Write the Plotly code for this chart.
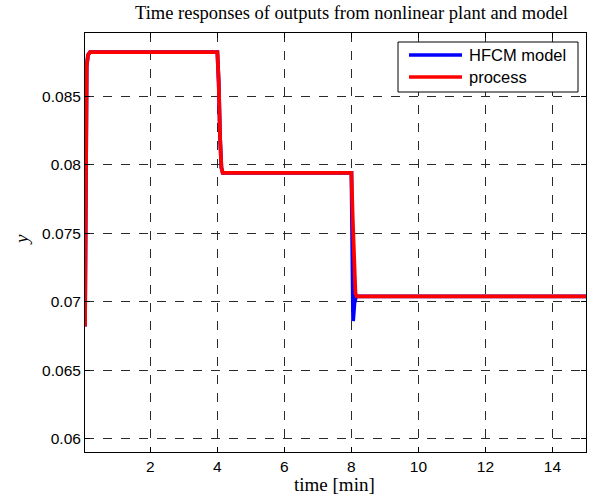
import plotly.graph_objects as go

# Data
time_process = [0.05, 0.07, 0.10, 0.14, 0.20, 4.00, 4.04, 4.08, 4.12, 4.16, 8.00, 8.04, 8.08, 8.12, 8.16, 15.0]
y_process = [0.0682, 0.0840, 0.0872, 0.0880, 0.0882, 0.0882, 0.0860, 0.0820, 0.0798, 0.0794, 0.0794, 0.0760, 0.0720, 0.0706, 0.0704, 0.0704]

time_model = [0.05, 0.07, 0.10, 0.14, 0.20, 4.00, 4.04, 4.08, 4.12, 4.16, 8.00, 8.03, 8.05, 8.07, 8.09, 8.11, 8.14, 15.0]
y_model = [0.0682, 0.0840, 0.0872, 0.0880, 0.0882, 0.0882, 0.0860, 0.0820, 0.0798, 0.0794, 0.0794, 0.0730, 0.0686, 0.0692, 0.0699, 0.0702, 0.0704, 0.0704]

x_ticks = [2, 4, 6, 8, 10, 12, 14]
y_ticks = [0.06, 0.065, 0.07, 0.075, 0.08, 0.085]
y_tick_labels = ["0.06", "0.065", "0.07", "0.075", "0.08", "0.085"]

series_names = ["HFCM model", "process"]
series_colors = ["#0000ff", "#ff0000"]

W, H = 589, 502
L, R, T, B = 85, 3, 33, 50
pw, ph = W - L - R, H - T - B

def px_x(x):
    return (x - L) / pw

def px_y(y):
    return 1 - (y - T) / ph

fig = go.Figure()
fig.add_trace(go.Scatter(x=time_model, y=y_model, mode="lines", name=series_names[0],
                         line=dict(color=series_colors[0], width=3.8), showlegend=False))
fig.add_trace(go.Scatter(x=time_process, y=y_process, mode="lines", name=series_names[1],
                         line=dict(color=series_colors[1], width=3.8), showlegend=False))

axis_common = dict(showline=True, linecolor="black", linewidth=1, mirror="ticks",
                   ticks="inside", ticklen=5, tickcolor="black",
                   showgrid=True, gridcolor="#2a2a2a", griddash="dash", gridwidth=1,
                   zeroline=False,
                   tickfont=dict(family="Arial, Liberation Sans", size=15.5, color="black"))

serif = "Liberation Serif, Times New Roman"

annotations = [
    dict(text="Time responses of outputs from nonlinear plant and model", xref="paper", yref="paper",
         x=px_x(351), y=px_y(13), xanchor="center", yanchor="middle", showarrow=False,
         font=dict(family=serif, size=18.5, color="black")),
    dict(text="time [min]", xref="paper", yref="paper",
         x=px_x(334), y=px_y(484), xanchor="center", yanchor="middle", showarrow=False,
         font=dict(family=serif, size=19, color="black")),
    dict(text="<i>y</i>", xref="paper", yref="paper", textangle=-90,
         x=px_x(22), y=px_y(240), xanchor="center", yanchor="middle", showarrow=False,
         font=dict(family=serif, size=19, color="black")),
]

# manual legend (box + sample lines + labels)
shapes = [dict(type="rect", xref="paper", yref="paper",
               x0=px_x(398), x1=px_x(578), y0=px_y(92), y1=px_y(42),
               line=dict(color="black", width=1), fillcolor="white", layer="above")]
leg_rows = [55, 77]
for name, color, ry in zip(series_names, series_colors, leg_rows):
    shapes.append(dict(type="line", xref="paper", yref="paper",
                       x0=px_x(409), x1=px_x(462), y0=px_y(ry), y1=px_y(ry),
                       line=dict(color=color, width=3.5), layer="above"))
    annotations.append(dict(text=name, xref="paper", yref="paper",
                            x=px_x(467), y=px_y(ry), xanchor="left", yanchor="middle",
                            showarrow=False,
                            font=dict(family="Arial, Liberation Sans", size=16.5, color="black")))

fig.update_layout(
    width=W, height=H,
    paper_bgcolor="white", plot_bgcolor="white",
    margin=dict(l=L, r=R, t=T, b=B),
    xaxis=dict(range=[0.05, 15.0], tickvals=x_ticks, **axis_common),
    yaxis=dict(range=[0.05905, 0.0896], tickvals=y_ticks, ticktext=y_tick_labels, **axis_common),
    annotations=annotations,
    shapes=shapes,
    showlegend=False,
)

fig.write_html("out.html")
